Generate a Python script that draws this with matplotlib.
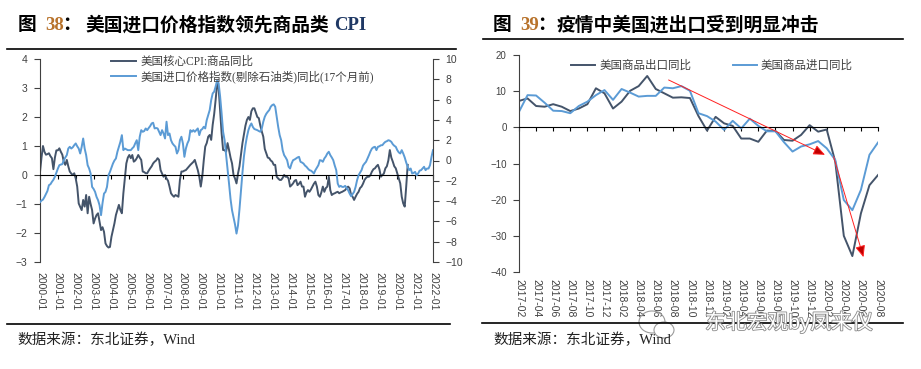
import matplotlib.pyplot as plt
import matplotlib.patheffects as pe
from matplotlib.lines import Line2D
from matplotlib.patches import Ellipse
from matplotlib.font_manager import FontProperties
import numpy as np

SANS = ['Liberation Sans', 'Noto Sans CJK SC']
SERIF = ['Liberation Serif', 'Noto Sans CJK SC']
plt.rcParams['font.family'] = SANS

# ---- left chart: monthly, 2000-01 onwards ----
core_goods = [
    0.1, 0.6, 1.0, 0.8, 0.7, 0.72, 0.75, 0.65, 0.58, 0.2, 0.6, 0.85,
    0.85, 0.92, 0.8, 0.7, 0.45, 0.35, 0.52, 0.3, 0.12, 0.05, 0.0, 0.06,
    -0.12, -0.4, -0.98, -1.1, -1.21, -0.86, -1.09, -0.69, -1.32, -0.75, -1.0, -1.21,
    -1.67, -1.5, -1.38, -1.32, -1.61, -1.9, -1.8, -1.96, -2.36, -2.45, -2.5, -2.48,
    -2.13, -1.9, -1.67, -1.38, -1.2, -1.03, -1.21, -1.32, -0.63, -0.1, 0.4, 0.6,
    0.69, 0.58, 0.69, 0.46, 0.5, 0.58, 0.69, 0.6, 0.52, 0.12, 0.1, 0.06,
    0.06, 0.15, 0.23, 0.3, 0.4, 0.46, 0.5, 0.58, 0.52, 0.17, 0.05, -0.06,
    0.0, -0.12, -0.2, -0.4, -0.63, -0.7, -0.75, -0.69, -0.72, -0.75, -0.17, 0.12,
    0.12, 0.15, 0.17, 0.23, 0.29, 0.35, 0.4, 0.45, 0.52, 0.35, 0.17, -0.06,
    -0.4, -0.06, 0.5, 0.98, 1.1, 1.32, 1.38, 1.21, 1.73, 2.1, 2.6, 3.15,
    3.0, 2.2, 1.44, 0.86, 0.86, 0.8, 1.1, 0.86, 0.6, 0.4, 0.0, -0.12,
    -0.29, 0.05, 0.3, 0.7, 1.1, 1.4, 1.7, 1.9, 2.0, 1.9, 2.2, 2.3,
    2.3, 2.15, 2.0, 1.96, 1.7, 1.5, 1.32, 0.9, 0.75, 0.6, 0.58, 0.5,
    0.46, 0.35, 0.35, -0.06, -0.12, -0.17, -0.17, -0.1, 0.0, -0.06, -0.06, -0.12,
    -0.4, -0.35, -0.29, -0.2, -0.17, -0.35, -0.3, -0.23, -0.4, -0.4, -0.75, -0.6,
    -0.52, -0.58, -0.5, -0.40, -0.3, -0.23, -0.4, -0.69, -0.75, -0.6, -0.4, -0.58,
    -0.45, -0.4, -0.06, -0.52, -0.69, -0.65, -0.63, -0.6, -0.58, -0.63, -0.6, -0.58,
    -0.55, -0.52, -0.45, -0.4, -0.46, -0.69, -0.75, -0.86, -0.75, -0.65, -0.58, -0.45,
    -0.4, -0.3, -0.17, -0.1, -0.06, -0.06, 0.0, 0.12, 0.2, 0.23, 0.3, 0.35,
    0.2, -0.06, 0.0, 0.05, 0.23, 0.3, 0.5, 0.86, 0.6, 0.46, 0.3, 0.23,
    0.06, -0.1, -0.29, -0.75, -0.98, -1.09, -0.4, 0.35,
]
import_ex_oil = [
    -4.1, -3.95, -3.85, -3.6, -3.3, -3.0, -2.43, -2.34, -2.1, -1.9, -1.6, -1.2,
    -0.8, -0.46, -0.4, -0.36, 0.03, 0.3, 0.53, 1.18, 1.35, 1.18, 1.3, 1.51,
    1.68, 1.4, 1.18, 0.69, 1.35, 2.17, 1.18, 0.53, -0.46, -0.79, -1.28, -2.6,
    -2.8, -3.09, -3.59, -3.91, -4.41, -5.39, -4.2, -3.26, -3.09, -2.6, -1.45, -1.12,
    -0.7, -0.3, 0.0, 0.2, 0.86, 1.35, 1.84, 2.5, 1.02, 1.18, 1.1, 1.02,
    1.02, 1.02, 1.2, 1.35, 1.7, 2.0, 1.02, 2.34, 2.99, 2.83, 2.9, 3.16,
    2.99, 3.2, 3.39, 3.65, 3.72, 3.16, 3.2, 3.16, 2.83, 2.5, 2.99, 2.66,
    2.17, 3.82, 2.5, 2.66, 2.0, 1.68, 1.5, 1.35, 0.69, 1.02, 2.0, 2.34,
    1.68, 0.36, 1.18, 1.68, 2.0, 2.99, 2.83, 2.99, 2.83, 3.0, 3.16, 2.5,
    2.99, 3.1, 3.32, 3.16, 3.98, 4.47, 4.97, 5.95, 6.61, 6.78, 7.3, 7.9,
    7.6, 6.3, 4.64, 2.83, 2.0, 0.6, -0.9, -2.3, -3.8, -4.9, -5.6, -6.3,
    -7.2, -6.4, -4.8, -3.0, -1.2, 0.4, 1.5, 2.34, 2.99, 3.4, 3.65, 3.3,
    3.1, 3.05, 2.99, 2.9, 2.83, 3.16, 3.82, 4.31, 4.6, 4.8, 4.97, 5.3,
    5.46, 5.53, 5.3, 4.31, 3.32, 2.5, 2.0, 1.02, 0.53, 0.3, 0.03, -0.62,
    -0.79, -0.3, 0.03, 0.1, 0.2, 0.3, 0.36, -0.13, -0.2, -0.3, -0.5, -0.62,
    -0.8, -0.95, -1.0, -1.12, -1.28, -0.95, -0.7, -0.46, 0.03, 0.0, -0.13, 0.2,
    0.4, 0.69, 0.86, 0.53, 0.3, 0.03, -0.5, -0.95, -2.27, -2.6, -2.5, -2.6,
    -2.6, -2.5, -2.7, -2.93, -3.26, -3.52, -3.3, -3.09, -2.6, -1.94, -1.45, -1.2,
    -0.95, -0.5, -0.3, -0.13, 0.2, 0.53, 0.9, 1.18, 1.3, 1.35, 1.02, 1.35,
    1.4, 1.5, 1.51, 1.7, 1.84, 1.9, 2.0, 1.95, 1.84, 1.6, 1.45, 1.35,
    1.02, 0.8, 0.69, 1.02, 0.69, 0.3, -0.2, -0.62, -0.95, -0.79, -1.28, -1.22,
    -1.12, -1.45, -1.28, -1.0, -0.95, -0.79, -0.62, -0.95, -0.79, -0.79, -0.46, 0.36,
    1.02,
]
year_labels = [f'{y}-01' for y in range(2000, 2023)]
left_names = ['美国核心CPI:商品同比', '美国进口价格指数(剔除石油类)同比(17个月前)']

# ---- right chart: monthly 2017-02 .. 2020-08 ----
trade_months = [f'{y}-{m:02d}' for y in range(2017, 2021) for m in range(1, 13)][1:44]
exports_yoy = [7.3, 8.0, 5.9, 5.7, 6.4, 5.7, 4.5, 5.2, 6.4, 10.8,
               9.4, 5.2, 7.1, 10.1, 11.4, 14.2, 10.6, 9.4, 8.2, 8.3,
               8.1, 3.1, -0.9, 2.9, 1.1, 0.4, -3.1, -3.1, -4.0, -0.9,
               -1.0, -3.5, -3.7, -2.1, 0.6, -1.2, -0.6, -9.5, -30.0, -35.6,
               -23.8, -16.0, -13.2]
imports_yoy = [4.3, 8.9, 8.8, 6.8, 4.6, 4.5, 3.9, 5.9, 7.1, 8.9,
               10.3, 7.6, 10.6, 9.6, 8.5, 8.7, 8.7, 11.0, 10.8, 11.4,
               10.1, 3.9, 3.1, 1.6, -0.7, 1.8, -0.3, 2.4, 0.4, -1.1,
               -1.1, -4.1, -6.7, -5.3, -4.7, -3.8, -5.8, -9.0, -20.1, -22.9,
               -17.3, -7.6, -4.2]
right_names = ['美国商品出口同比', '美国商品进口同比']
# trend arrows (start, end) in data units
trend_arrows = [((17.5, 13.1), (35.8, -7.6)), ((36.8, -8.1), (40.3, -35.9))]

DARK = '#44546A'
BLUE = '#5B9BD5'
TXT = '#404040'

fig = plt.figure(figsize=(9.21, 3.69), dpi=100)


def fx(px):
    return px / 921


def fy(py):
    return 1 - py / 369


def rule(x0, x1, y):
    fig.add_artist(Line2D([fx(x0), fx(x1)], [fy(y), fy(y)], color='black',
                          lw=1.2, transform=fig.transFigure))


# ---------------- left chart ----------------
ax1 = fig.add_axes([fx(40), fy(262), fx(433) - fx(40), fy(59) - fy(262)])
ax1b = ax1.twinx()
l1, = ax1.plot(np.arange(len(core_goods)), core_goods, color=DARK, lw=1.4)
l2, = ax1b.plot(np.arange(len(import_ex_oil)), import_ex_oil, color=BLUE, lw=1.4)

ax1.set_xlim(0, 264)
ax1.set_ylim(-3, 4)
ax1.set_yticks(range(-3, 5))
ax1b.set_ylim(-10, 10)
ax1b.set_yticks(range(-10, 11, 2))
for s in ['top', 'right']:
    ax1.spines[s].set_visible(False)
for s in ['top', 'bottom', 'left']:
    ax1b.spines[s].set_visible(False)
ax1.spines['bottom'].set_position(('data', 0))
ax1.spines['bottom'].set_color('black')
ax1.spines['left'].set_color(TXT)
ax1b.spines['right'].set_color(TXT)
ax1.set_xticks(range(0, 265, 12))
ax1.tick_params(axis='x', length=3, color='black', labelbottom=False)
ax1.tick_params(axis='y', length=4, color=TXT, labelsize=7.5, labelcolor=TXT, pad=5)
ax1b.tick_params(axis='y', length=4, color=TXT, labelsize=7.5, labelcolor=TXT, pad=5)
sec1 = ax1.secondary_xaxis('bottom')
sec1.set_xticks(range(0, 265, 12), labels=year_labels, rotation=-90)
sec1.tick_params(length=0, pad=7, labelsize=7.5, labelcolor=TXT)
sec1.spines['bottom'].set_visible(False)

fig.legend([l1, l2], left_names, loc='upper left',
           bbox_to_anchor=(fx(111), fy(56)), frameon=False,
           prop=FontProperties(family=SERIF, size=8.3), labelcolor=TXT,
           handlelength=2.2, handletextpad=0.35, labelspacing=0.2,
           borderpad=0, borderaxespad=0)

# ---------------- right chart ----------------
ax2 = fig.add_axes([fx(519), fy(272), fx(878) - fx(519), fy(55) - fy(272)])
idx = np.arange(len(trade_months))
r1, = ax2.plot(idx, exports_yoy, color=DARK, lw=1.4)
r2, = ax2.plot(idx, imports_yoy, color=BLUE, lw=1.4)
for (x0, y0), (x1, y1) in trend_arrows:
    ax2.annotate('', xy=(x1, y1), xytext=(x0, y0),
                 arrowprops=dict(arrowstyle='-|>,head_length=0.7,head_width=0.3',
                                 ec='#FF2020', fc='#C00000', lw=0.7,
                                 shrinkA=0, shrinkB=0))
ax2.set_xlim(0, len(trade_months) - 1)
ax2.set_ylim(-40, 20)
ax2.set_yticks(range(-40, 21, 10))
for s in ['top', 'right']:
    ax2.spines[s].set_visible(False)
ax2.spines['bottom'].set_position(('data', 0))
ax2.spines['bottom'].set_color('black')
ax2.spines['left'].set_color(TXT)
ax2.set_xticks(idx[::2])
ax2.tick_params(axis='x', length=3, color='black', labelbottom=False)
ax2.tick_params(axis='y', length=4, color=TXT, labelsize=7, labelcolor=TXT, pad=5)
sec2 = ax2.secondary_xaxis('bottom')
sec2.set_xticks(idx[::2], labels=trade_months[::2], rotation=-90)
sec2.tick_params(length=0, pad=5, labelsize=7.5, labelcolor=TXT)
sec2.spines['bottom'].set_visible(False)

fig.legend([r1, r2], right_names, loc='upper left', ncol=2,
           bbox_to_anchor=(fx(571), fy(60)), frameon=False,
           prop=FontProperties(family=SERIF, size=8.3), labelcolor=TXT,
           handlelength=2.1, handletextpad=0.35, columnspacing=3.6,
           borderpad=0, borderaxespad=0)

# ---------------- titles / rules / source ----------------
TITLE_Y = fy(25)
tk = dict(fontsize=13.5, fontweight='bold', va='center', family=SERIF)
fig.text(fx(18), TITLE_Y, '图', color='black', **tk)
fig.text(fx(45), TITLE_Y, '38', color='#B8732C', **tk)
fig.text(fx(62), TITLE_Y, '：', color='black', **tk)
fig.text(fx(85), TITLE_Y, '美国进口价格指数领先商品类', color='black', **tk)
fig.text(fx(334), TITLE_Y, 'CPI', color='#1F3864', **tk)

fig.text(fx(493), TITLE_Y, '图', color='black', **tk)
fig.text(fx(520), TITLE_Y, '39', color='#B8732C', **tk)
fig.text(fx(537), TITLE_Y, '：', color='black', **tk)
fig.text(fx(557), TITLE_Y, '疫情中美国进出口受到明显冲击', color='black', **tk)

rule(7, 456, 49)
rule(483, 903, 39)
rule(7, 450, 324)
rule(482, 903, 323)

sk = dict(fontsize=10.5, va='center', family=SERIF, color='#222222')
fig.text(fx(17), fy(340), '数据来源：东北证券，Wind', **sk)
fig.text(fx(493), fy(340), '数据来源：东北证券，Wind', **sk)

# watermark
fig.add_artist(Ellipse((fx(652), fy(322)), 26 / 921, 22 / 369, transform=fig.transFigure,
                       fill=False, ec='#9a9a9a', lw=0.8))
fig.add_artist(Ellipse((fx(664), fy(330)), 20 / 921, 16 / 369, transform=fig.transFigure,
                       fc='white', ec='#9a9a9a', lw=0.8))
fig.text(fx(705), fy(322), '东北宏观by凤来仪', fontsize=15, color='white', va='center',
         path_effects=[pe.withStroke(linewidth=1.2, foreground='#8a8a8a')])

fig.savefig('out.png', dpi=100)
